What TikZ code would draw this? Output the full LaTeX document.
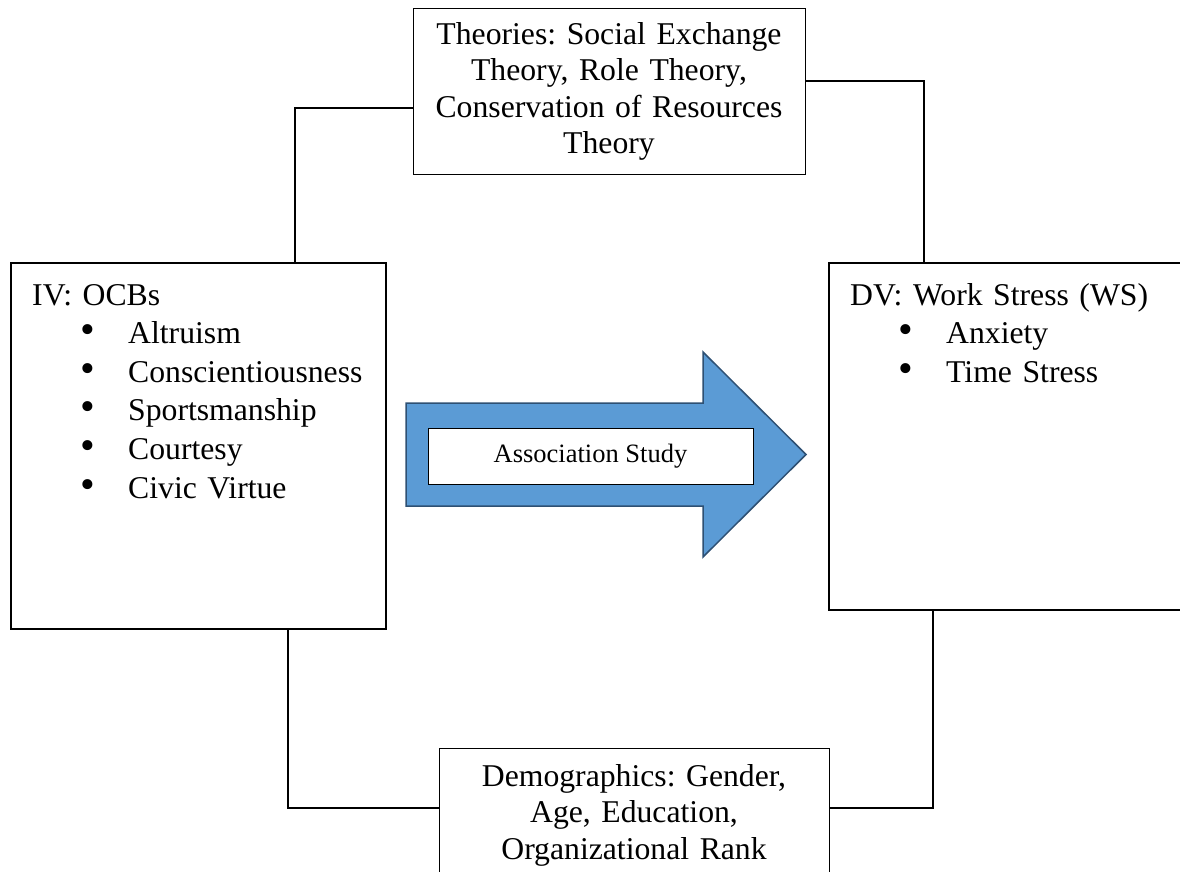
\documentclass[tikz,border=0pt]{standalone}
\usepackage{fontspec}
\setmainfont{Liberation Serif}
\frenchspacing

\definecolor{arrowblue}{RGB}{91,155,213}
\definecolor{arrowedge}{RGB}{46,80,115}

\newcommand{\bigfont}{\fontsize{31.7}{38.6}\selectfont}
\newcommand{\notefont}{\fontsize{31.7}{36.5}\selectfont}
\newcommand{\smallfont}{\fontsize{26.5}{30}\selectfont}
\newcommand{\ocb}[1]{\makebox[96pt][l]{\hspace{48pt}{\fontsize{42}{38.6}\selectfont\textbullet}}#1}

\tikzset{
	varbox/.style={draw, rectangle, line width=2pt, inner sep=0pt},
	notebox/.style={draw, rectangle, line width=1pt, align=center, text width=380pt, font=\notefont},
	varlist/.style={anchor=base west, text width=340pt, align=left, inner sep=0pt, font=\bigfont},
	link/.style={line width=2pt}
}

\begin{document}
\begin{tikzpicture}[x=1pt, y=-1pt]
			\useasboundingbox (0,0) rectangle (1180,872);
			\clip (0,0) rectangle (1180,872);
			\node[notebox, minimum width=392pt, minimum height=165pt] (Th) at (609,91.5) {Theories: Social Exchange\\Theory, Role Theory,\\Conservation of Resources\\Theory};
			\node[varbox, minimum width=375pt, minimum height=366pt] (IV) at (198.5,446) {};
			\node[varlist] (IVl) at (32,305) {IV: OCBs\\\ocb{Altruism}\\\ocb{Conscientiousness}\\\ocb{Sportsmanship}\\\ocb{Courtesy}\\\ocb{Civic Virtue}};
			\draw [link] ([yshift=-16.5pt]Th.west) -| ([xshift=285pt]IV.north west);
			\node[varbox, minimum width=371pt, minimum height=347pt] (DV) at (1014.5,436.5) {};
			\node[varlist] (DVl) at (850,305) {DV: Work Stress (WS)\\\ocb{Anxiety}\\\ocb{Time Stress}};
			\draw [link] ([yshift=10.5pt]Th.east) -| ([xshift=96pt]DV.north west);
			% association arrow
			\draw [arrowedge, fill=arrowblue, line width=1.5pt, line join=miter] (406,403) -- (703,403) -- (703,352) -- (806,454.5) -- (703,557) -- (703,506) -- (406,506) -- cycle;
			\node[draw, fill=white, line width=0.8pt, minimum width=325pt, minimum height=56pt, font=\smallfont] (AS) at (590.5,456) {Association Study};
			\node[notebox, minimum width=390pt, minimum height=134pt] (Dem) at (634,815) {Demographics: Gender,\\Age, Education,\\Organizational Rank};
			\draw [link] ([xshift=278pt]IV.south west) |- ([yshift=7pt]Dem.west);
			\draw [link] ([xshift=105pt]DV.south west) |- ([yshift=7pt]Dem.east);
\end{tikzpicture}
\end{document}
